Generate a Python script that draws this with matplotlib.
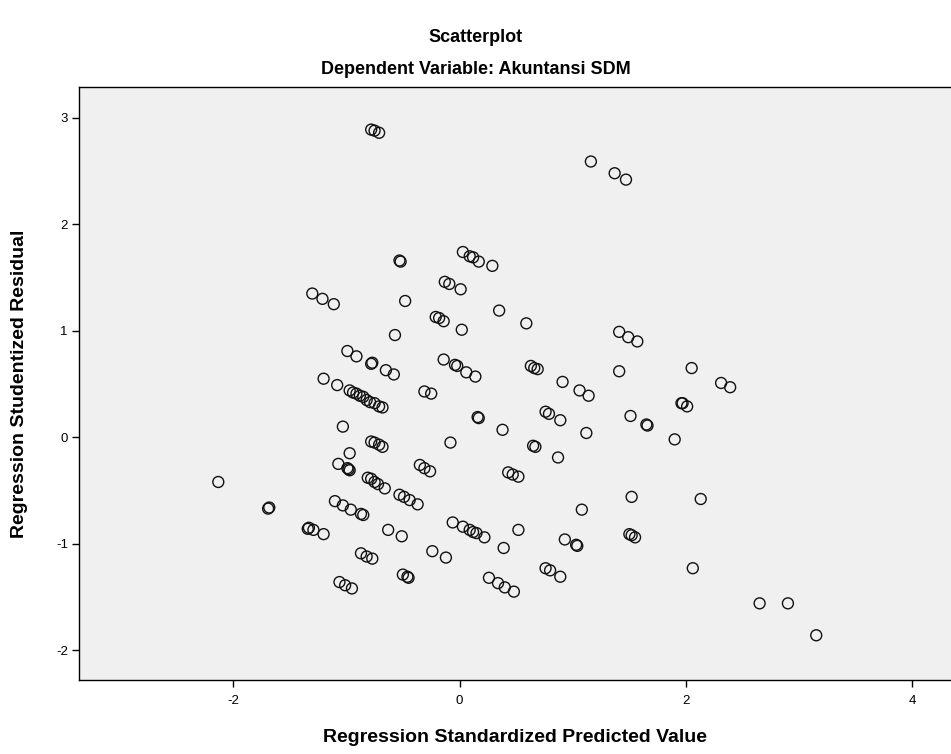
import matplotlib
matplotlib.use("Agg")
import matplotlib.pyplot as plt

plt.rcParams['font.family'] = ['Liberation Sans', 'DejaVu Sans']

# Regression standardized predicted value (x) and studentized residual (y)
pred = [
    -2.13, -1.68, -1.69, -1.33, -1.34, -1.29, -1.20,
    -1.30, -1.21, -1.11, -0.99, -0.91, -0.78, -0.77, -1.20, -1.08,
    -0.97, -0.94, -0.91, -0.88, -0.85, -0.82, -0.79, -0.75, -0.71, -0.68,
    -1.03, -0.78, -0.75, -0.71, -0.68, -0.97, -1.07, -0.99, -0.98, -0.97,
    -0.81, -0.78, -0.75, -0.72, -0.66, -1.10, -1.03, -0.96, -0.87, -0.85,
    -0.87, -0.82, -0.77, -1.06, -1.01, -0.95,
    -0.78, -0.75, -0.71, -0.53, -0.52,
    0.03, 0.09, 0.12, 0.17, 0.29, -0.13, -0.09, 0.01, -0.48, 0.35,
    -0.21, -0.18, -0.14, 0.02, 0.59, -0.57, -0.65, -0.58, -0.14,
    -0.04, -0.02, 0.06, 0.14, 0.63, 0.66, 0.69, 0.91, -0.31, -0.25,
    0.16, 0.17, 0.76, 0.79, 0.89, 0.38, -0.08, 0.65, 0.67, 0.87,
    -0.35, -0.31, -0.26, 0.43, 0.47, 0.52, -0.53, -0.49, -0.44, -0.37,
    -0.06, 0.03, 0.09, 0.12, 0.15, 0.22, -0.63, -0.51, 0.52, 0.93,
    -0.24, -0.12, 0.39, -0.50, -0.46, -0.45, 0.26, 0.34, 0.40, 0.48,
    0.76, 0.80, 0.89,
    1.41, 1.49, 1.57, 1.41, 2.05, 2.31, 2.39, 1.06, 1.14, 1.96, 1.97,
    2.01, 1.51, 1.65, 1.66, 1.12, 1.90, 1.52, 2.13, 1.08, 1.03, 1.04,
    1.50, 1.52, 1.55, 2.06, 2.65, 2.90, 3.15, 1.16, 1.37, 1.47,
]
resid = [
    -0.42, -0.66, -0.67, -0.85, -0.86, -0.87, -0.91,
    1.35, 1.30, 1.25, 0.81, 0.76, 0.69, 0.70, 0.55, 0.49,
    0.44, 0.42, 0.41, 0.39, 0.38, 0.35, 0.33, 0.32, 0.29, 0.28,
    0.10, -0.04, -0.05, -0.07, -0.09, -0.15, -0.25, -0.29, -0.30, -0.31,
    -0.38, -0.39, -0.42, -0.44, -0.48, -0.60, -0.64, -0.68, -0.72, -0.73,
    -1.09, -1.12, -1.14, -1.36, -1.39, -1.42,
    2.89, 2.88, 2.86, 1.66, 1.65,
    1.74, 1.70, 1.69, 1.65, 1.61, 1.46, 1.44, 1.39, 1.28, 1.19,
    1.13, 1.12, 1.09, 1.01, 1.07, 0.96, 0.63, 0.59, 0.73,
    0.68, 0.67, 0.61, 0.57, 0.67, 0.65, 0.64, 0.52, 0.43, 0.41,
    0.19, 0.18, 0.24, 0.22, 0.16, 0.07, -0.05, -0.08, -0.09, -0.19,
    -0.26, -0.29, -0.32, -0.33, -0.35, -0.37, -0.54, -0.56, -0.59, -0.63,
    -0.80, -0.84, -0.87, -0.89, -0.90, -0.94, -0.87, -0.93, -0.87, -0.96,
    -1.07, -1.13, -1.04, -1.29, -1.31, -1.32, -1.32, -1.37, -1.41, -1.45,
    -1.23, -1.25, -1.31,
    0.99, 0.94, 0.90, 0.62, 0.65, 0.51, 0.47, 0.44, 0.39, 0.32, 0.32,
    0.29, 0.20, 0.12, 0.11, 0.04, -0.02, -0.56, -0.58, -0.68, -1.01, -1.02,
    -0.91, -0.92, -0.94, -1.23, -1.56, -1.56, -1.86, 2.59, 2.48, 2.42,
]

xticks = [-2, 0, 2, 4]
yticks = [-2, -1, 0, 1, 2, 3]

fig = plt.figure(figsize=(9.51, 7.54), dpi=100)
fig.patch.set_facecolor('white')
ax = fig.add_axes([79 / 951, 1 - 680 / 754, (951 - 79) / 951, (680 - 87) / 754])
ax.set_facecolor('#f0f0f0')

ax.scatter(pred, resid, s=62, facecolors='none', edgecolors='#111111',
           linewidths=1.0, zorder=3)

ax.set_xlim(-3.36, 4.34)
ax.set_ylim(-2.28, 3.29)
ax.set_xticks(xticks)
ax.set_yticks(yticks)
ax.set_xticklabels([str(t) for t in xticks])
ax.set_yticklabels([str(t) for t in yticks])
ax.tick_params(axis='both', direction='out', length=5, width=1,
               labelsize=9.5, color='black', pad=3)
ax.tick_params(axis='x', pad=6)

for side in ['left', 'bottom', 'top']:
    ax.spines[side].set_color('black')
    ax.spines[side].set_linewidth(1.0)
ax.spines['right'].set_visible(False)

ax.set_xlabel('Regression Standardized Predicted Value', fontsize=14,
              fontweight='bold', va='center')
ax.xaxis.set_label_coords(0.5, (680 - 737) / 593)
ax.set_ylabel('Regression Studentized Residual', fontsize=14,
              fontweight='bold', va='center')
ax.yaxis.set_label_coords((20 - 79) / 872, 0.5)

fig.text(0.5, 1 - 38 / 754, 'Scatterplot', ha='center', va='center',
         fontsize=13, fontweight='bold')
fig.text(0.5, 1 - 70 / 754, 'Dependent Variable: Akuntansi SDM', ha='center',
         va='center', fontsize=13, fontweight='bold')

fig.savefig('out.png', dpi=100)
